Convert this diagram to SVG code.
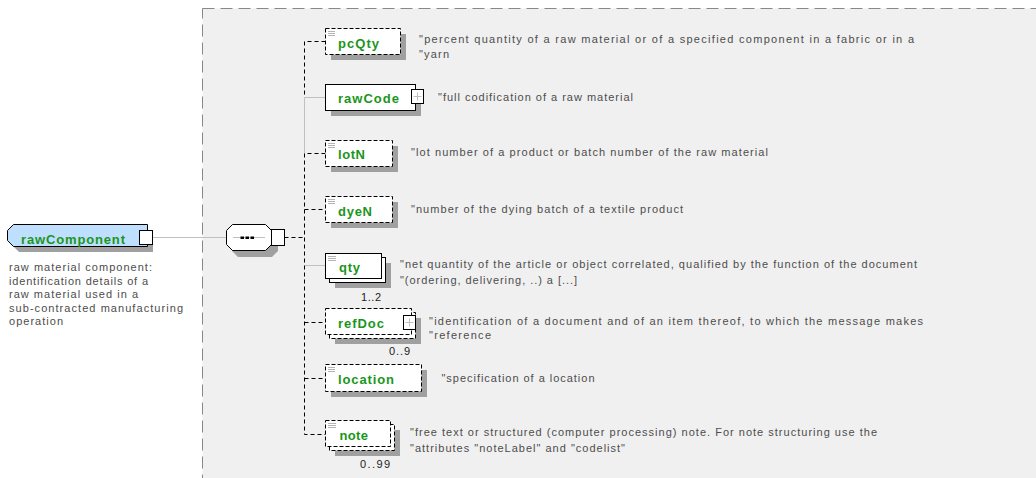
<svg xmlns="http://www.w3.org/2000/svg" width="1036" height="478" viewBox="0 0 1036 478">
<defs>
<style>
.name{font-family:"Liberation Sans",Arial,sans-serif;font-size:13px;font-weight:bold;fill:#1a961a}
.desc{font-family:"Liberation Sans",Arial,sans-serif;font-size:11px;fill:#4d4d4d}
.mult{font-family:"Liberation Sans",Arial,sans-serif;font-size:11px;fill:#222}
.box{fill:#fff;stroke:#000;stroke-width:1}
.opt{stroke-dasharray:4 2}
.shadow{fill:#a0a0a0;stroke:none}
.copt{stroke:#000;stroke-width:1;stroke-dasharray:4 3;fill:none}
.creq{stroke:#c0c0c0;stroke-width:1;fill:none}
.icon{stroke:#b4b4b4;stroke-width:1}
.plus{stroke:#c0c0c0;stroke-width:1}
</style>
</defs>
<rect width="1036" height="478" fill="#fff"/>
<rect x="202.5" y="8.5" width="900" height="500" fill="#f0f0f0" stroke="#888" stroke-dasharray="12 6"/>

<g id="connectors">
<path class="creq" d="M153 237.5H227"/>
<path class="copt" d="M284.5 237.5H304.5"/>
<path class="copt" d="M325.5 41.5H304.5V97.5"/>
<path class="creq" d="M304.5 97.5V153.5M304.5 97.5H325.5"/>
<path class="copt" d="M325.5 153.5H304.5V434.5H325.5"/>
<path class="copt" d="M304.5 209.5H325.5"/>
<path class="creq" d="M305 265.5H325.5"/>
<path class="copt" d="M304.5 322.5H325.5"/>
<path class="copt" d="M304.5 378.5H325.5"/>
</g>

<g id="rawComponent">
<polygon class="shadow" points="19,230 153,230 153,252 19,252 13,246 13,236"/>
<polygon points="13.5,224.5 147.5,224.5 147.5,246.5 13.5,246.5 7.5,240.5 7.5,230.5" fill="#bfdfff" stroke="#000"/>
<rect class="box" x="139.5" y="230.5" width="13" height="14"/>
<text class="name" x="21" y="244" textLength="104" lengthAdjust="spacing">rawComponent</text>
<text class="desc" x="9" y="271" textLength="143" lengthAdjust="spacing">raw material component:</text>
<text class="desc" x="9" y="284.5" textLength="139" lengthAdjust="spacing">identification details of a</text>
<text class="desc" x="9" y="298" textLength="129" lengthAdjust="spacing">raw material used in a</text>
<text class="desc" x="9" y="311.5" textLength="174" lengthAdjust="spacing">sub-contracted manufacturing</text>
<text class="desc" x="9" y="325" textLength="54" lengthAdjust="spacing">operation</text>
</g>

<g id="sequence">
<polygon class="shadow" points="238,230 272,230 278,236 278,251 272,257 238,257 232,251 232,236"/>
<polygon class="box" points="232.5,224.5 265.5,224.5 271.5,230.5 271.5,244.5 265.5,250.5 232.5,250.5 226.5,244.5 226.5,230.5"/>
<line x1="233" y1="237.5" x2="265" y2="237.5" stroke="#c0c0c0"/>
<rect x="240.5" y="236.5" width="3.5" height="2.5" fill="#000"/>
<rect x="245.5" y="236.5" width="3.5" height="2.5" fill="#000"/>
<rect x="250.5" y="236.5" width="3.5" height="2.5" fill="#000"/>
<rect class="box" x="271.5" y="229.5" width="13" height="16"/>
</g>

<g id="pcQty">
<rect class="shadow" x="331" y="34" width="75" height="26"/>
<rect class="box opt" x="325.5" y="28.5" width="75" height="26"/>
<path class="icon" d="M328 31.5h7M328 33.5h7M328 35.5h7"/>
<text class="name" x="338" y="47.5" textLength="41" lengthAdjust="spacing">pcQty</text>
<text class="desc" x="419" y="43" textLength="495" lengthAdjust="spacing">"percent quantity of a raw material or of a specified component in a fabric or in a</text>
<text class="desc" x="419" y="57.5" textLength="30" lengthAdjust="spacing">"yarn</text>
</g>

<g id="rawCode">
<rect class="shadow" x="331" y="90" width="90" height="26"/>
<rect class="box" x="325.5" y="84.5" width="90" height="26"/>
<rect class="box" x="411.5" y="89.5" width="12" height="14"/>
<path class="plus" d="M413.5 96.5h8M417.5 92.5v8"/>
<text class="name" x="338" y="103" textLength="61" lengthAdjust="spacing">rawCode</text>
<text class="desc" x="438" y="101" textLength="195" lengthAdjust="spacing">"full codification of a raw material</text>
</g>

<g id="lotN">
<rect class="shadow" x="331" y="146" width="67" height="26"/>
<rect class="box opt" x="325.5" y="140.5" width="67" height="26"/>
<path class="icon" d="M328 143.5h7M328 145.5h7M328 147.5h7"/>
<text class="name" x="338" y="159" textLength="27" lengthAdjust="spacing">lotN</text>
<text class="desc" x="411" y="156" textLength="357" lengthAdjust="spacing">"lot number of a product or batch number of the raw material</text>
</g>

<g id="dyeN">
<rect class="shadow" x="331" y="202" width="67" height="26"/>
<rect class="box opt" x="325.5" y="196.5" width="67" height="26"/>
<path class="icon" d="M328 199.5h7M328 201.5h7M328 203.5h7"/>
<text class="name" x="338" y="215.5" textLength="34" lengthAdjust="spacing">dyeN</text>
<text class="desc" x="411" y="213" textLength="272" lengthAdjust="spacing">"number of the dying batch of a textile product</text>
</g>

<g id="qty">
<rect class="shadow" x="335" y="263" width="56" height="25"/>
<rect class="box" x="329.5" y="257.5" width="56" height="25"/>
<rect class="box" x="325.5" y="253.5" width="56" height="25"/>
<path class="icon" d="M328 256.5h8M328 258.5h8M328 260.5h8"/>
<text class="name" x="339" y="272" textLength="21" lengthAdjust="spacing">qty</text>
<text class="mult" x="361" y="301" textLength="20" lengthAdjust="spacing">1..2</text>
<text class="desc" x="400" y="267.5" textLength="517" lengthAdjust="spacing">"net quantity of the article or object correlated, qualified by the function of the document</text>
<text class="desc" x="400" y="284" textLength="177" lengthAdjust="spacing">"(ordering, delivering, ..) a [...]</text>
</g>

<g id="refDoc">
<rect class="shadow" x="335" y="318" width="86" height="26"/>
<rect class="box opt" x="329.5" y="312.5" width="86" height="26"/>
<rect class="box opt" x="325.5" y="308.5" width="86" height="26"/>
<rect class="box" x="403.5" y="315.5" width="12" height="14"/>
<path class="plus" d="M405.5 322.5h8M409.5 318.5v8"/>
<text class="name" x="338" y="328" textLength="46" lengthAdjust="spacing">refDoc</text>
<text class="mult" x="389" y="355" textLength="21" lengthAdjust="spacing">0..9</text>
<text class="desc" x="429" y="325" textLength="494" lengthAdjust="spacing">"identification of a document and of an item thereof, to which the message makes</text>
<text class="desc" x="429" y="339" textLength="62" lengthAdjust="spacing">"reference</text>
</g>

<g id="location">
<rect class="shadow" x="331" y="370" width="96" height="27"/>
<rect class="box opt" x="325.5" y="364.5" width="96" height="27"/>
<path class="icon" d="M328 367.5h7M328 369.5h7M328 371.5h7"/>
<text class="name" x="338" y="384" textLength="56" lengthAdjust="spacing">location</text>
<text class="desc" x="441.5" y="381.5" textLength="153" lengthAdjust="spacing">"specification of a location</text>
</g>

<g id="note">
<rect class="shadow" x="335" y="430" width="65" height="26"/>
<rect class="box opt" x="329.5" y="424.5" width="65" height="26"/>
<rect class="box opt" x="325.5" y="420.5" width="65" height="26"/>
<path class="icon" d="M328 423.5h8M328 425.5h8M328 427.5h8"/>
<text class="name" x="339.5" y="440" textLength="28.5" lengthAdjust="spacing">note</text>
<text class="mult" x="360" y="468" textLength="30" lengthAdjust="spacing">0..99</text>
<text class="desc" x="410" y="435.5" textLength="467" lengthAdjust="spacing">"free text or structured (computer processing) note. For note structuring use the</text>
<text class="desc" x="410" y="451.5" textLength="215" lengthAdjust="spacing">"attributes "noteLabel" and "codelist"</text>
</g>
</svg>
